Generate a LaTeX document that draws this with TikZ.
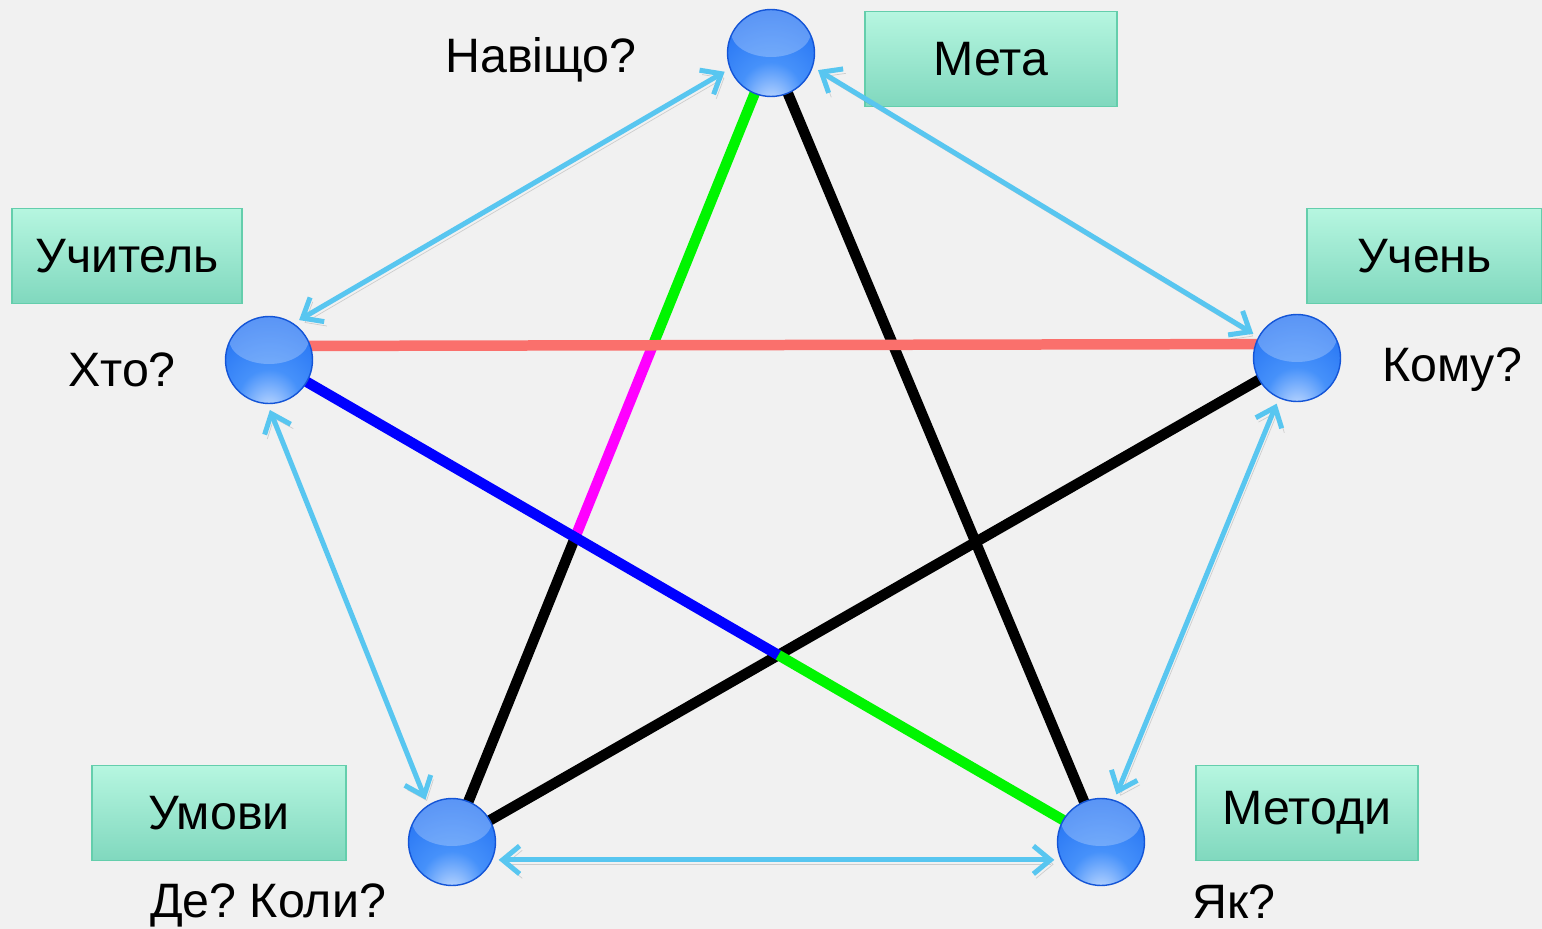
\documentclass[tikz,border=0pt]{standalone}
\usepackage{fontspec}
\setmainfont{Liberation Sans}
\usetikzlibrary{arrows.meta,intersections}
\definecolor{bgcol}{RGB}{241,241,241}
\definecolor{boxtop}{RGB}{182,246,224}
\definecolor{boxbot}{RGB}{128,216,190}
\definecolor{boxline}{RGB}{100,206,172}
\definecolor{arrcol}{RGB}{88,198,240}
\definecolor{redln}{RGB}{250,112,108}
\definecolor{grnln}{RGB}{0,245,0}
\definecolor{magln}{RGB}{255,0,255}
\definecolor{bluln}{RGB}{0,0,255}
\definecolor{sphlight}{RGB}{200,222,255}
\definecolor{sphmid}{RGB}{70,145,250}
\definecolor{sphdark}{RGB}{20,100,240}
\definecolor{sphline}{RGB}{20,85,215}
\pgfdeclareradialshading{glass}{\pgfpoint{0bp}{-30bp}}{color(0bp)=(sphlight); color(18bp)=(sphmid); color(50bp)=(sphdark); color(80bp)=(sphdark)}
\pgfdeclarelayer{bg}
\pgfdeclarelayer{edges}
\pgfsetlayers{bg,edges,main}
\frenchspacing
\tikzset{
  sphere/.style={circle, minimum size=1.74cm, inner sep=0pt, outer sep=0.13cm, shade, shading=glass, draw=sphline, line width=0.8pt,
    path picture={\fill[white, opacity=0.25] ([yshift=0.42cm]path picture bounding box.center) ellipse (0.8cm and 0.5cm);}},
  box/.style={draw=boxline, line width=0.8pt, top color=boxtop, bottom color=boxbot, minimum height=1.9cm, inner sep=0pt, font=\fontsize{27.5}{32}\selectfont},
  lbl/.style={font=\fontsize{27.5}{32}\selectfont, inner sep=0pt},
  edge/.style={line width=0.21cm},
  arr/.style={arrcol, line width=0.1cm, {Straight Barb[length=0.34cm,width=0.56cm]}-{Straight Barb[length=0.34cm,width=0.56cm]},
    preaction={draw=black, opacity=0.15, transform canvas={xshift=1.5pt,yshift=-2.5pt}}}
}
\begin{document}
\begin{tikzpicture}[x=0.02cm,y=-0.02cm]
\begin{pgfonlayer}{bg}
\fill[bgcol] (0,0) rectangle (1542,929);
\end{pgfonlayer}
\useasboundingbox (0,0) rectangle (1542,929);

\node[sphere] (top) at (771,53) {};
\node[sphere] (lft) at (269,360) {};
\node[sphere] (rgt) at (1297,358) {};
\node[sphere] (bl) at (452,842) {};
\node[sphere] (br) at (1101,842) {};

\node[box, minimum width=5.04cm] (meta) at (991,59) {Мета};
\node[box, minimum width=4.6cm] (uchytel) at (127,256) {Учитель};
\node[box, minimum width=4.7cm] (uchen) at (1424.5,256) {Учень};
\node[box, minimum width=5.08cm] (umovy) at (219,813) {Умови};
\node[box, minimum width=4.44cm] (metody) at (1307,813) {Методи};

\node[lbl] (navishcho) at (541,60) {Навіщо?};
\node[lbl] (khto) at (122,370) {Хто?};
\node[lbl] (komu) at (1452,370) {Кому?};
\node[lbl] (dekoly) at (268,905) {Де? Коли?};
\node[lbl] (yak) at (1234,902) {Як?};

\path[name path=tb] (top.center) -- (bl.center);
\path[name path=lr] ([yshift=0.28cm]lft.center) -- ([yshift=0.28cm]rgt.center);
\path[name path=lb] (lft.center) -- (br.center);
\path[name path=rb] (rgt.center) -- (bl.center);
\path[name intersections={of=tb and lr, by=xa}];
\path[name intersections={of=tb and lb, by=xb}];
\path[name intersections={of=lb and rb, by=xc}];

\begin{pgfonlayer}{edges}
\draw[edge, grnln] (top.center) -- (xa);
\draw[edge, magln] (xa) -- (xb);
\draw[edge, black] (xb) -- (bl.center);
\draw[edge, black] (top.center) -- (br.center);
\draw[edge, black] (rgt.center) -- (bl.center);
\draw[edge, redln] ([yshift=0.28cm]lft.center) -- ([yshift=0.28cm]rgt.center);
\draw[edge, bluln] (lft.center) -- (xc);
\draw[edge, grnln] (xc) -- (br.center);
\end{pgfonlayer}

\draw[arr] (top.202) -- (lft.53);
\draw[arr] (top.340) -- (rgt.151);
\draw[arr] (lft.271) -- (bl.122);
\draw[arr] (rgt.246) -- (br.72);
\draw[arr] (bl.339) -- (br.201);
\end{tikzpicture}
\end{document}
